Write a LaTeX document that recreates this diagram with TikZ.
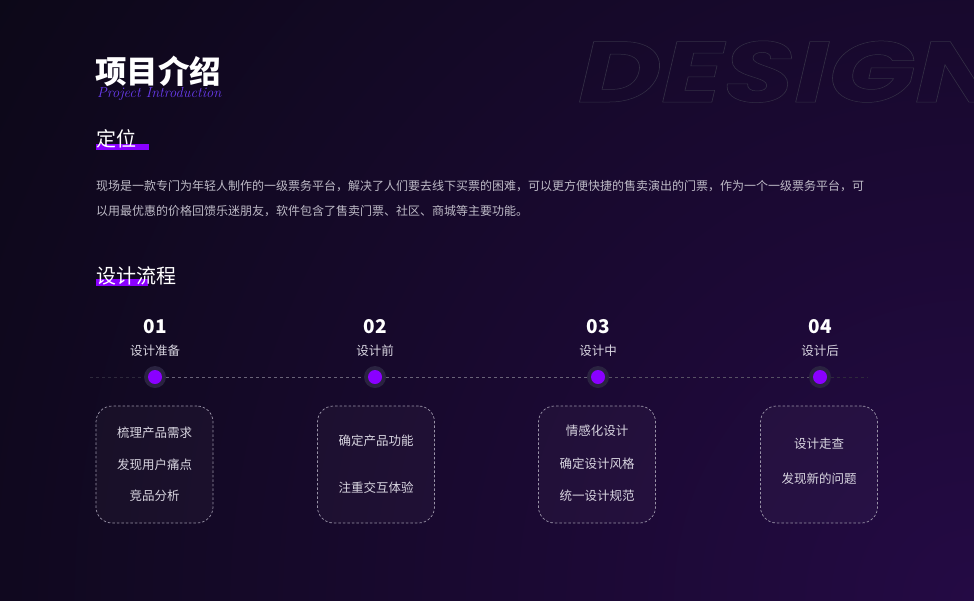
\documentclass[tikz,border=0pt]{standalone}
\usepackage{fontspec}
\setmainfont{Noto Sans CJK SC}
\newfontfamily\lmit{Latin Modern Roman}
\newfontfamily\designfont{Poppins}
\definecolor{bg}{HTML}{0B0816}
\definecolor{glow}{HTML}{240A44}
\definecolor{accent}{HTML}{8A00FF}
\definecolor{halo}{HTML}{2A2340}
\definecolor{para}{HTML}{BDBAC6}
\definecolor{boxtext}{HTML}{D8D5E0}
\definecolor{boxline}{HTML}{9A94A8}
\definecolor{tline}{HTML}{6A6478}
\definecolor{tfade}{HTML}{2E2A3C}
\definecolor{subt}{HTML}{6A3CF0}
\tikzset{
  stagebox/.style={draw=boxline, dash pattern=on 2.5pt off 2pt, line width=0.7pt,
    rounded corners=16pt, minimum width=117pt, minimum height=117pt,
    fill=white, fill opacity=0.03, text opacity=1},
  boxitem/.style={text=boxtext, font=\fontsize{12.5}{14}\selectfont, inner sep=0pt},
  stagenum/.style={text=white, font=\fontsize{19}{20}\selectfont\bfseries, inner sep=0pt},
  stagelabel/.style={text=boxtext, font=\fontsize{12.5}{14}\selectfont, inner sep=0pt},
  halodot/.style={circle, fill=halo, minimum size=22pt, inner sep=0pt},
  coredot/.style={circle, fill=accent, minimum size=14pt, inner sep=0pt},
  paraline/.style={text=para, font=\fontsize{12}{14}\selectfont, anchor=west, inner sep=0pt},
  heading/.style={text=white, font=\fontsize{20}{22}\selectfont, anchor=west, inner sep=0pt},
  tdash/.style={line width=0.7pt, dash pattern=on 3pt off 3pt},
}
\begin{document}
\begin{tikzpicture}[x=1pt,y=-1pt]
\useasboundingbox (0,0) rectangle (974,600);
\begin{scope}
\clip (0,0) rectangle (974,600);
\fill[bg] (0,0) rectangle (974,600);
\shade[inner color=glow, outer color=bg] (974,600) circle (1200pt);
\node[anchor=base west, inner sep=0pt, xscale=1.33] (design) at (578,102)
  {\designfont\fontsize{86}{90}\selectfont\bfseries\itshape
   \special{pdf:literal direct 1 Tr 0.5 w 0.20 0.18 0.27 RG}DESIGN\special{pdf:literal direct 0 Tr}};
\end{scope}

% title
\node[anchor=west, inner sep=0pt, text=white, font=\fontsize{31.5}{33}\selectfont\bfseries] (title) at (95,71) {项目介绍};
\node[anchor=west, inner sep=0pt, text=subt, font=\lmit\fontsize{14.5}{15}\selectfont\itshape] (sub) at (97,94) {Project Introduction};

% 定位
\fill[accent] (96,144) rectangle (149,150);
\node[heading] (pos) at (96,139) {定位};
\node[paraline] (p1) at (96,186) {现场是一款专门为年轻人制作的一级票务平台，解决了人们要去线下买票的困难，可以更方便快捷的售卖演出的门票，作为一个一级票务平台，可};
\node[paraline] (p2) at (96,211) {以用最优惠的价格回馈乐迷朋友，软件包含了售卖门票、社区、商城等主要功能。};

% 设计流程
\fill[accent] (96,279) rectangle (148,286);
\node[heading] (flow) at (96,276) {设计流程};

% timeline
\coordinate (tl) at (90,377);
\coordinate (tr) at (868,377);
\node[halodot] (d1) at (155,377) {};
\node[halodot] (d2) at (375,377) {};
\node[halodot] (d3) at (598,377) {};
\node[halodot] (d4) at (820,377) {};
\draw[tdash, tfade] (tl) -- (d1.west);
\draw[tdash, tline] (d1.east) -- (d2.west);
\draw[tdash, tline] (d2.east) -- (d3.west);
\draw[tdash, tline!80!bg] (d3.east) -- (d4.west);
\draw[tdash, tfade] (d4.east) -- (tr);
\foreach \i in {1,2,3,4} { \node[coredot] (c\i) at (d\i) {}; }

% stage headers
\node[stagenum] (n1) at (155,327) {01};
\node[stagelabel] (l1) at (155,351) {设计准备};
\node[stagenum] (n2) at (375,327) {02};
\node[stagelabel] (l2) at (375,351) {设计前};
\node[stagenum] (n3) at (598,327) {03};
\node[stagelabel] (l3) at (598,351) {设计中};
\node[stagenum] (n4) at (820,327) {04};
\node[stagelabel] (l4) at (820,351) {设计后};

% boxes
\node[stagebox] (b1) at (154.5,464.5) {};
\node[stagebox] (b2) at (376,464.5) {};
\node[stagebox] (b3) at (597,464.5) {};
\node[stagebox] (b4) at (819,464.5) {};

\node[boxitem] (b1a) at (154.5,433) {梳理产品需求};
\node[boxitem] (b1b) at (154.5,465) {发现用户痛点};
\node[boxitem] (b1c) at (154.5,496) {竞品分析};
\node[boxitem] (b2a) at (376,441) {确定产品功能};
\node[boxitem] (b2b) at (376,488) {注重交互体验};
\node[boxitem] (b3a) at (597,431) {情感化设计};
\node[boxitem] (b3b) at (597,464) {确定设计风格};
\node[boxitem] (b3c) at (597,496) {统一设计规范};
\node[boxitem] (b4a) at (819,444) {设计走查};
\node[boxitem] (b4b) at (819,479) {发现新的问题};
\end{tikzpicture}
\end{document}
